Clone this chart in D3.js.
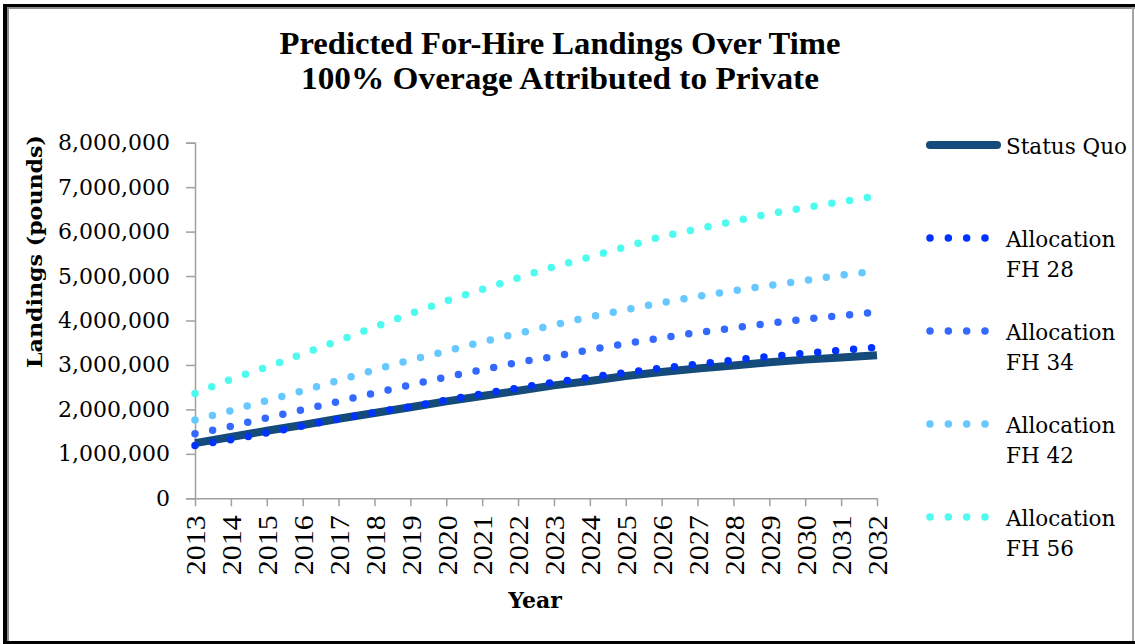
<!DOCTYPE html>
<html>
<head>
<meta charset="utf-8">
<script src="https://cdn.jsdelivr.net/npm/d3@7"></script>
<style>
  html, body { margin: 0; padding: 0; background: #fff; }
  svg { display: block; }
</style>
</head>
<body>
<svg id="chart" width="1135" height="644"></svg>
<script>
// Years on the category axis (also used as tick labels)
const years = [2013, 2014, 2015, 2016, 2017, 2018, 2019, 2020, 2021, 2022,
               2023, 2024, 2025, 2026, 2027, 2028, 2029, 2030, 2031, 2032];

// Predicted for-hire landings (pounds) per scenario
const statusQuo = [1240000, 1380000, 1520000, 1650000, 1790000, 1920000, 2050000, 2180000, 2300000, 2420000,
                   2540000, 2640000, 2750000, 2840000, 2920000, 2990000, 3060000, 3120000, 3170000, 3220000];
const fh28 = [1190000, 1320000, 1470000, 1630000, 1780000, 1930000, 2060000, 2210000, 2350000, 2480000,
              2610000, 2720000, 2830000, 2930000, 3020000, 3110000, 3190000, 3260000, 3330000, 3400000];
const fh34 = [1450000, 1620000, 1810000, 1990000, 2180000, 2370000, 2550000, 2730000, 2890000, 3060000,
              3190000, 3340000, 3480000, 3610000, 3730000, 3830000, 3940000, 4030000, 4110000, 4190000];
const fh42 = [1760000, 1970000, 2200000, 2420000, 2650000, 2890000, 3110000, 3310000, 3520000, 3710000,
              3900000, 4080000, 4240000, 4400000, 4540000, 4670000, 4790000, 4900000, 5020000, 5110000];
const fh56 = [2360000, 2680000, 2950000, 3250000, 3550000, 3850000, 4150000, 4440000, 4700000, 4960000,
              5210000, 5430000, 5660000, 5890000, 6060000, 6230000, 6400000, 6540000, 6670000, 6800000];

const yTicks = [0, 1000000, 2000000, 3000000, 4000000, 5000000, 6000000, 7000000, 8000000];

const seriesNames = ["Status Quo", "Allocation FH 28", "Allocation FH 34", "Allocation FH 42", "Allocation FH 56"];
const seriesValues = [statusQuo, fh28, fh34, fh42, fh56];

const titleLines = ["Predicted For-Hire Landings Over Time", "100% Overage Attributed to Private"];

// Visual styling per series
const styles = [
  { color: "#144b7b", width: 8, dotted: false },
  { color: "#0033ff", width: 7.5, dotted: true },
  { color: "#3369ff", width: 7.5, dotted: true },
  { color: "#66c8ff", width: 7.5, dotted: true },
  { color: "#4efcef", width: 7.5, dotted: true }
];

const svg = d3.select("#chart");
const W = 1135, H = 644;

// Frame around the chart
svg.append("rect").attr("x", 0).attr("y", 0).attr("width", W).attr("height", H).attr("fill", "#fff");
svg.append("rect").attr("x", 3).attr("y", 4).attr("width", 4).attr("height", H - 4).attr("fill", "#000");
svg.append("rect").attr("x", 3).attr("y", 4).attr("width", W - 3).attr("height", 3).attr("fill", "#000");
svg.append("rect").attr("x", 3).attr("y", H - 3).attr("width", W - 3).attr("height", 3).attr("fill", "#000");
svg.append("rect").attr("x", 7).attr("y", 7).attr("width", 2).attr("height", H - 10).attr("fill", "#8c8c8c");
svg.append("rect").attr("x", 7).attr("y", 7).attr("width", W - 7).attr("height", 2).attr("fill", "#8c8c8c");
svg.append("rect").attr("x", W - 3).attr("y", 7).attr("width", 2).attr("height", H - 10).attr("fill", "#a6a6a6");

// Plot area
const plot = { left: 195, right: 877, top: 142.7, bottom: 498.3 };

const x = d3.scalePoint().domain(years).range([plot.left, plot.right]);
const y = d3.scaleLinear().domain([0, 8000000]).range([plot.bottom, plot.top]);

// Title
svg.append("g").selectAll("text").data(titleLines).join("text")
  .attr("x", 560)
  .attr("y", (d, i) => 54 + i * 35)
  .attr("text-anchor", "middle")
  .attr("font-family", "'Liberation Serif', serif")
  .attr("font-weight", "bold")
  .attr("font-size", 31)
  .attr("textLength", (d, i) => i === 0 ? 561 : 518)
  .attr("lengthAdjust", "spacingAndGlyphs")
  .attr("fill", "#000")
  .text(d => d);

// Y axis
const yAxis = svg.append("g")
  .attr("transform", `translate(${plot.left},0)`)
  .call(d3.axisLeft(y).tickValues(yTicks).tickSize(9).tickPadding(16).tickFormat(d3.format(",")));
yAxis.select(".domain").attr("stroke", "#a0a0a0").attr("stroke-width", 1.5);
yAxis.selectAll(".tick line").attr("stroke", "#a0a0a0").attr("stroke-width", 1.5);
yAxis.selectAll(".tick text")
  .attr("font-family", "'DejaVu Serif', serif")
  .attr("font-size", 22)
  .attr("fill", "#000");

// X axis
const xAxis = svg.append("g")
  .attr("transform", `translate(0,${plot.bottom})`)
  .call(d3.axisBottom(x).tickSize(8).tickSizeOuter(0));
xAxis.select(".domain").attr("stroke", "#a0a0a0").attr("stroke-width", 1.5);
xAxis.selectAll(".tick line").attr("stroke", "#a0a0a0").attr("stroke-width", 1.5);
xAxis.selectAll(".tick text")
  .attr("transform", "rotate(-90)")
  .attr("x", -17)
  .attr("y", 0)
  .attr("dy", "0.35em")
  .attr("text-anchor", "end")
  .attr("font-family", "'Liberation Serif', serif")
  .attr("font-size", 28)
  .attr("textLength", 60)
  .attr("lengthAdjust", "spacingAndGlyphs")
  .attr("fill", "#000");

// Axis titles
svg.append("text")
  .attr("transform", `translate(42,${(135 + 368) / 2}) rotate(-90)`)
  .attr("text-anchor", "middle")
  .attr("font-family", "'DejaVu Serif', serif")
  .attr("font-weight", "bold")
  .attr("font-size", 21)
  .attr("textLength", 233)
  .attr("lengthAdjust", "spacingAndGlyphs")
  .attr("fill", "#000")
  .text("Landings (pounds)");

svg.append("text")
  .attr("x", 535)
  .attr("y", 608)
  .attr("text-anchor", "middle")
  .attr("font-family", "'DejaVu Serif', serif")
  .attr("font-weight", "bold")
  .attr("font-size", 22)
  .attr("fill", "#000")
  .text("Year");

// Series lines
const line = d3.line()
  .x((d, i) => x(years[i]))
  .y(d => y(d));

svg.append("g").selectAll("path").data(seriesValues).join("path")
  .attr("d", d => line(d))
  .attr("fill", "none")
  .attr("stroke", (d, i) => styles[i].color)
  .attr("stroke-width", (d, i) => styles[i].width)
  .attr("stroke-linecap", (d, i) => styles[i].dotted ? "round" : "butt")
  .attr("stroke-linejoin", "round")
  .attr("stroke-dasharray", (d, i) => styles[i].dotted ? "0 18" : null);

// Legend
const legendY = [145, 238, 331, 424, 517];
const legend = svg.append("g");
seriesNames.forEach((name, i) => {
  const s = styles[i];
  const g = legend.append("g");
  if (s.dotted) {
    g.append("line")
      .attr("x1", 930).attr("x2", 990)
      .attr("y1", legendY[i]).attr("y2", legendY[i])
      .attr("stroke", s.color)
      .attr("stroke-width", s.width)
      .attr("stroke-linecap", "round")
      .attr("stroke-dasharray", "0 18.33");
  } else {
    g.append("line")
      .attr("x1", 930).attr("x2", 997)
      .attr("y1", legendY[i]).attr("y2", legendY[i])
      .attr("stroke", s.color)
      .attr("stroke-width", s.width)
      .attr("stroke-linecap", "round");
  }
  const parts = name.startsWith("Allocation") ? ["Allocation", name.replace("Allocation ", "")] : [name];
  g.selectAll("text").data(parts).join("text")
    .attr("x", 1006)
    .attr("y", (d, j) => legendY[i] + 9 + j * 29.5)
    .attr("font-family", "'DejaVu Serif', serif")
    .attr("font-size", 21.5)
    .attr("fill", "#000")
    .text(d => d);
});
</script>
</body>
</html>
